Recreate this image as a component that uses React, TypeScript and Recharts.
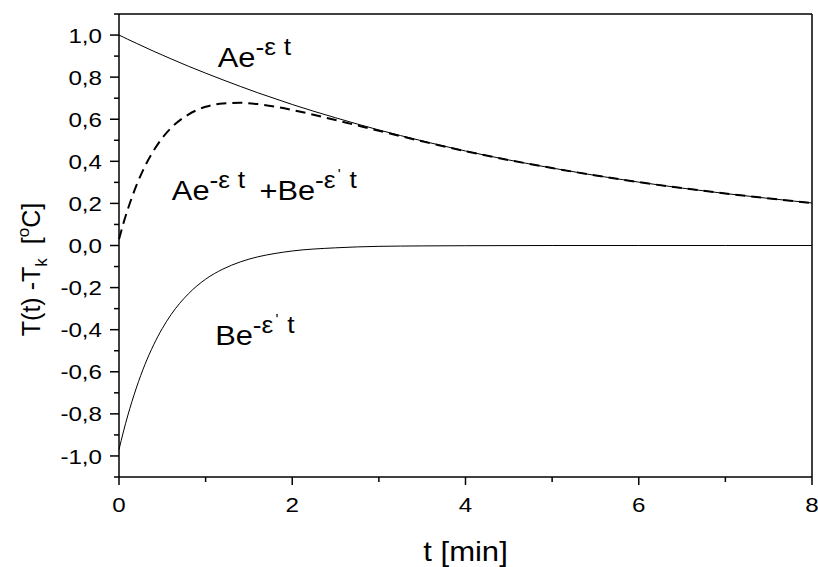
import React from 'react';
import {
  LineChart,
  Line,
  XAxis,
  YAxis,
  ReferenceLine,
  ReferenceDot
} from 'recharts';

// time axis [min] and the three curves
const tValues = [0, 0.05, 0.1, 0.2, 0.3, 0.4, 0.5, 0.6, 0.8, 1.0, 1.2, 1.4, 1.6, 1.8, 2.0, 2.5, 3, 3.5, 4, 5, 6, 7, 8];
const expA = [1.0, 0.99, 0.98, 0.961, 0.942, 0.923, 0.905, 0.887, 0.852, 0.819, 0.787, 0.756, 0.726, 0.698, 0.67, 0.607, 0.549, 0.497, 0.449, 0.368, 0.301, 0.247, 0.202];
const expB = [-0.97, -0.886, -0.81, -0.677, -0.565, -0.472, -0.394, -0.329, -0.23, -0.16, -0.112, -0.078, -0.054, -0.038, -0.026, -0.011, -0.004, -0.002, -0.001, 0, 0, 0, 0];
const sumAB = [0.03, 0.104, 0.17, 0.284, 0.377, 0.451, 0.511, 0.558, 0.622, 0.659, 0.675, 0.678, 0.672, 0.66, 0.644, 0.596, 0.545, 0.495, 0.448, 0.368, 0.301, 0.247, 0.202];

const xTicks = [0, 1, 2, 3, 4, 5, 6, 7, 8];
const yTicks = [-1.1, -1.0, -0.9, -0.8, -0.7, -0.6, -0.5, -0.4, -0.3, -0.2, -0.1, 0, 0.1, 0.2, 0.3, 0.4, 0.5, 0.6, 0.7, 0.8, 0.9, 1.0, 1.1];

const data = tValues.map((t, i) => ({ t, a: expA[i], b: expB[i], sum: sumAB[i] }));

const FONT = '"Liberation Sans", Arial, sans-serif';
// the original figure is slightly wider than tall, so text is stretched a bit
const SX = 1.15;

function YTick({ x, y, payload }: any) {
  const v = payload.value;
  const major = Math.abs(v * 5 - Math.round(v * 5)) < 1e-6;
  return (
    <g>
      <line x1={x} x2={x - (major ? 9 : 5)} y1={y} y2={y} stroke="#000" strokeWidth={1.5} />
      {major && (
        <g transform={`translate(${x - 17} ${y}) scale(${SX} 1)`}>
          <text x={0} y={0} dy="0.36em" textAnchor="end" fontSize={21} fontFamily={FONT} fill="#000">
            {v.toFixed(1).replace('.', ',')}
          </text>
        </g>
      )}
    </g>
  );
}

function XTick({ x, y, payload }: any) {
  const v = payload.value;
  const major = v % 2 === 0;
  return (
    <g>
      <line x1={x} x2={x} y1={y} y2={y + (major ? 8 : 5)} stroke="#000" strokeWidth={1.5} />
      {major && (
        <g transform={`translate(${x} ${y + 35}) scale(${SX} 1)`}>
          <text x={0} y={0} textAnchor="middle" fontSize={21} fontFamily={FONT} fill="#000">
            {v}
          </text>
        </g>
      )}
    </g>
  );
}

const YTitle = (props: any) => {
  const vb = props.viewBox;
  const cx = 40;
  const cy = vb.y + vb.height / 2 + 24;
  return (
    <text x={cx} y={cy} transform={`rotate(-90, ${cx}, ${cy})`} textAnchor="middle" fontSize={25} fontFamily={FONT} fill="#000">
      T(t) -T
      <tspan fontSize={17} dy={7}>k</tspan>
      <tspan dy={-7} dx={14}>[</tspan>
      <tspan fontSize={17} dy={-11}>o</tspan>
      <tspan dy={11}>C]</tspan>
    </text>
  );
};

const XTitle = (props: any) => {
  const vb = props.viewBox;
  return (
    <g transform={`translate(${vb.x + vb.width / 2} 561) scale(${SX} 1)`}>
      <text x={0} y={0} textAnchor="middle" fontSize={27} fontFamily={FONT} fill="#000">
        t [min]
      </text>
    </g>
  );
};

const Annot = ({ vb, children }: any) => (
  <g transform={`translate(${vb.x} ${vb.y}) scale(1.1 1)`}>
    <text x={0} y={0} fontSize={28} fontFamily={FONT} fill="#000">
      {children}
    </text>
  </g>
);

const labelA = (p: any) => (
  <Annot vb={p.viewBox}>
    Ae
    <tspan fontSize={24} dy={-12}>-ε</tspan>
    <tspan fontSize={24} dx={7}>t</tspan>
  </Annot>
);

const labelSum = (p: any) => (
  <Annot vb={p.viewBox}>
    Ae
    <tspan fontSize={24} dy={-12}>-ε</tspan>
    <tspan fontSize={24} dx={7}>t</tspan>
    <tspan dy={12} dx={13}>+Be</tspan>
    <tspan fontSize={24} dy={-12}>-ε</tspan>
    <tspan fontSize={14} dy={-9} dx={2}>'</tspan>
    <tspan fontSize={24} dy={9} dx={8}>t</tspan>
  </Annot>
);

const labelB = (p: any) => (
  <Annot vb={p.viewBox}>
    Be
    <tspan fontSize={24} dy={-12}>-ε</tspan>
    <tspan fontSize={14} dy={-9} dx={2}>'</tspan>
    <tspan fontSize={24} dy={9} dx={8}>t</tspan>
  </Annot>
);

export default function App() {
  return (
    <div style={{ position: 'absolute', left: 0, top: 0, width: 818, height: 567, background: '#fff' }}>
      <LineChart width={818} height={567} data={data} margin={{ top: 14, right: 6, bottom: 0, left: 0 }}>
        <XAxis
          dataKey="t"
          type="number"
          domain={[0, 8]}
          ticks={xTicks}
          interval={0}
          tickSize={0}
          tickMargin={0}
          tickLine={false}
          tick={<XTick />}
          height={90}
          axisLine={{ stroke: '#000', strokeWidth: 1.5 }}
          label={XTitle}
        />
        <YAxis
          type="number"
          domain={[-1.1, 1.1]}
          ticks={yTicks}
          interval={0}
          tickSize={0}
          tickMargin={0}
          tickLine={false}
          tick={<YTick />}
          width={119}
          axisLine={{ stroke: '#000', strokeWidth: 1.5 }}
          label={YTitle}
        />
        <ReferenceLine y={1.1} stroke="#000" strokeWidth={1.5} />
        <ReferenceLine x={8} stroke="#000" strokeWidth={1.5} />
        <Line type="monotone" dataKey="a" stroke="#000" strokeWidth={1} dot={false} isAnimationActive={false} />
        <Line type="monotone" dataKey="b" stroke="#000" strokeWidth={1} dot={false} isAnimationActive={false} />
        <Line type="monotone" dataKey="sum" stroke="#000" strokeWidth={2} strokeDasharray="10 6" dot={false} isAnimationActive={false} />
        <ReferenceDot x={1.14} y={0.848} r={0} fill="none" stroke="none" label={labelA} />
        <ReferenceDot x={0.61} y={0.216} r={0} fill="none" stroke="none" label={labelSum} />
        <ReferenceDot x={1.11} y={-0.473} r={0} fill="none" stroke="none" label={labelB} />
      </LineChart>
    </div>
  );
}
